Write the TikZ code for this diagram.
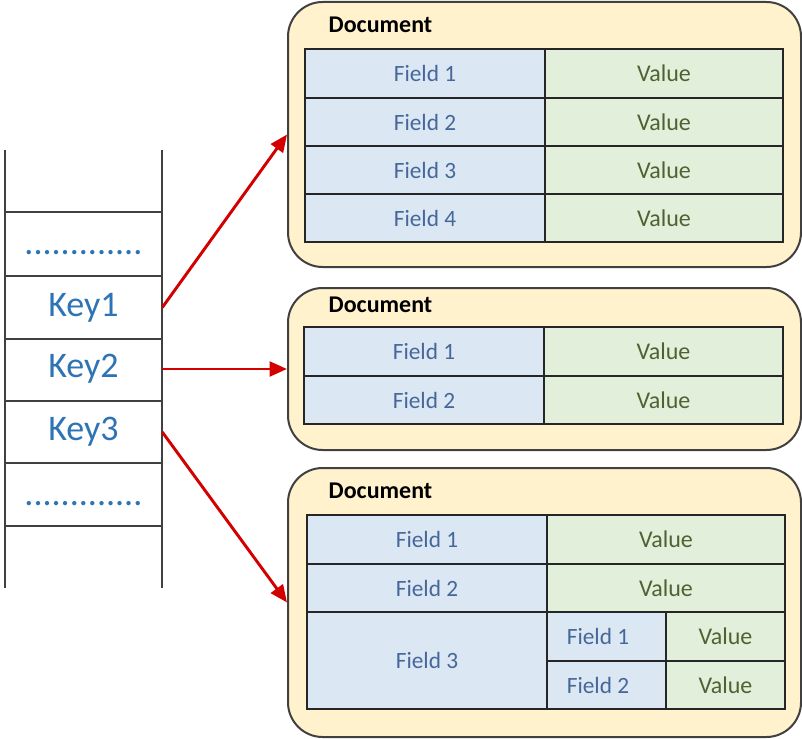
\documentclass[tikz,border=0pt]{standalone}
\usepackage{fontspec}
\setmainfont{Carlito}
\usetikzlibrary{arrows.meta}
\definecolor{docfill}{HTML}{FFF2CC}
\definecolor{docline}{HTML}{404040}
\definecolor{fieldfill}{HTML}{DCE7F4}
\definecolor{valuefill}{HTML}{E2EFDA}
\definecolor{fieldtext}{HTML}{46679A}
\definecolor{valuetext}{HTML}{4F6233}
\definecolor{keytext}{HTML}{2E74B5}
\definecolor{linkred}{HTML}{D40000}
\tikzset{
  docbox/.style={draw=docline, line width=1.5pt, fill=docfill, rounded corners=26pt,
    inner sep=0pt},
  doctitle/.style={anchor=base west, font=\fontsize{18}{20}\selectfont\bfseries, text=black},
  fieldcell/.style={fill=fieldfill},
  valuecell/.style={fill=valuefill},
  gridline/.style={draw=black!85, line width=1.4pt},
  fieldlbl/.style={font=\fontsize{17.5}{19}\selectfont, text=fieldtext},
  valuelbl/.style={font=\fontsize{18}{20}\selectfont, text=valuetext},
  keycell/.style={minimum width=117.75pt, minimum height=47.25pt, inner sep=0pt,
    font=\fontsize{27}{30}\selectfont, text=keytext},
  dotrow/.style={anchor=base, font=\fontsize{27}{30}\selectfont, text=keytext},
  stackline/.style={draw=docline, line width=1.5pt},
  link/.style={draw=linkred, line width=2.2pt, -{Triangle[length=13pt,width=11pt]}},
}
\begin{document}
\begin{tikzpicture}[x=0.75pt,y=-0.75pt]
\useasboundingbox (0,0) rectangle (802,738);

% ---- key column ----
\draw[stackline] (5,150) -- (5,588);
\draw[stackline] (162,150) -- (162,588);
\foreach \yy in {212,276,339,401,463,526}
  \draw[stackline] (5,\yy) -- (162,\yy);
\node[dotrow] (dotsA) at (83.5,254) {.............};
\node[keycell] (key1) at (83.5,307.5) {Key1};
\node[keycell] (key2) at (83.5,369) {Key2};
\node[keycell] (key3) at (83.5,432) {Key3};
\node[dotrow] (dotsB) at (83.5,505) {.............};

% ---- document boxes ----
\node[docbox, minimum width=384.75pt, minimum height=198.75pt] (doc1) at (544.5,134.5) {};
\node[docbox, minimum width=384.75pt, minimum height=121.5pt] (doc2) at (544.5,369) {};
\node[docbox, minimum width=384.75pt, minimum height=201.75pt] (doc3) at (544.5,602.5) {};

\node[doctitle] (title1) at (324,33) {Document};
\node[doctitle] (title2) at (324,312) {Document};
\node[doctitle] (title3) at (324,498) {Document};

% ---- first document: four fields ----
\fill[fieldcell] (305,49) rectangle (545,242);
\fill[valuecell] (545,49) rectangle (783,242);
\draw[gridline] (305,49) rectangle (783,242);
\draw[gridline] (545,49) -- (545,242);
\foreach \yy in {98,146,194} \draw[gridline] (305,\yy) -- (783,\yy);
\foreach \i/\yy in {1/73.5,2/122,3/170,4/218} {
  \node[fieldlbl] (d1f\i) at (425,\yy) {Field \i};
  \node[valuelbl] (d1v\i) at (664,\yy) {Value};
}

% ---- second document: two fields ----
\fill[fieldcell] (304,327) rectangle (544,424);
\fill[valuecell] (544,327) rectangle (783,424);
\draw[gridline] (304,327) rectangle (783,424);
\draw[gridline] (544,327) -- (544,424);
\draw[gridline] (304,376) -- (783,376);
\foreach \i/\yy in {1/351.5,2/400} {
  \node[fieldlbl] (d2f\i) at (424,\yy) {Field \i};
  \node[valuelbl] (d2v\i) at (663.5,\yy) {Value};
}

% ---- third document: nested sub-document ----
\fill[fieldcell] (307,515) rectangle (547,709);
\fill[valuecell] (547,515) rectangle (785,612);
\fill[fieldcell] (547,612) rectangle (666,709);
\fill[valuecell] (666,612) rectangle (785,709);
\draw[gridline] (307,515) rectangle (785,709);
\draw[gridline] (547,515) -- (547,709);
\draw[gridline] (307,564) -- (785,564);
\draw[gridline] (307,612) -- (785,612);
\draw[gridline] (666,612) -- (666,709);
\draw[gridline] (547,661) -- (785,661);
\node[fieldlbl] (d3f1) at (427,539.5) {Field 1};
\node[valuelbl] (d3v1) at (666,539.5) {Value};
\node[fieldlbl] (d3f2) at (427,588) {Field 2};
\node[valuelbl] (d3v2) at (666,588) {Value};
\node[fieldlbl] (d3f3) at (427,660.5) {Field 3};
\node[fieldlbl] (d3s1) at (598,636.5) {Field 1};
\node[valuelbl] (d3w1) at (725.5,636.5) {Value};
\node[fieldlbl] (d3s2) at (598,685) {Field 2};
\node[valuelbl] (d3w2) at (725.5,685) {Value};

% ---- key to document links ----
\draw[link] (key1.east) -- (doc1.west);
\draw[link] (key2.east) -- (doc2.west);
\draw[link] (key3.east) -- (doc3.west);
\end{tikzpicture}
\end{document}
